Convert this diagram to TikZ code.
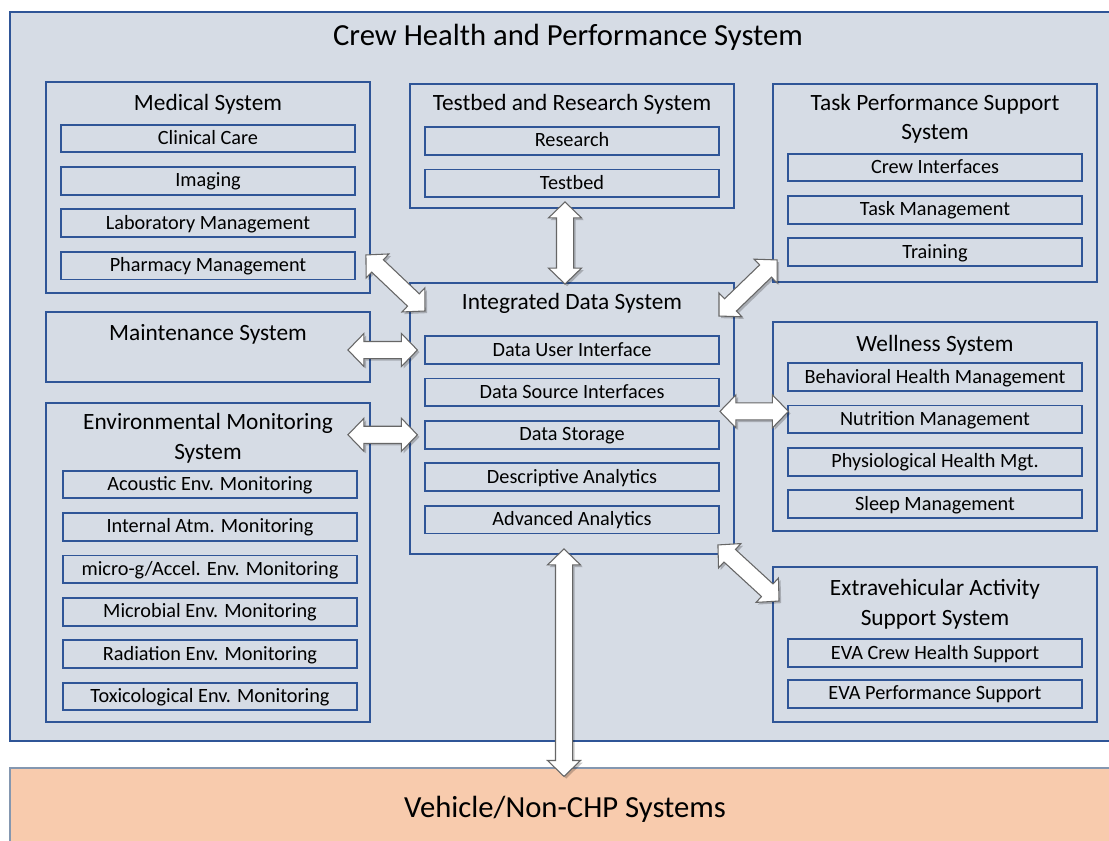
\documentclass[tikz,border=0pt]{standalone}
\usepackage{fontspec}
\setmainfont{Carlito}
\usepackage{tikz}
\usetikzlibrary{positioning,calc,fit}
\definecolor{chpfill}{HTML}{D6DCE5}
\definecolor{chpline}{HTML}{2F5597}
\definecolor{vehfill}{HTML}{F8CBAD}
\definecolor{vehline}{HTML}{8497B0}
\tikzset{
  sysbox/.style={draw=chpline,line width=1.4pt,inner sep=0pt},
  head/.style={font=\fontsize{17.5}{22}\selectfont,align=center,anchor=base,inner sep=0pt},
  bighead/.style={font=\fontsize{23}{27}\selectfont,anchor=base,inner sep=0pt},
  item/.style={draw=chpline,line width=1.4pt,minimum width=220pt,minimum height=20.8pt,inner sep=0pt,
    font=\fontsize{15.2}{18}\selectfont,text height=11.5pt,text depth=2.5pt},
  fatarrow/.style={fill=white,draw=gray!80!black,line width=0.8pt,line join=miter},
  arrshadow/.style={fill=black,opacity=0.22,draw=none}
}
\newcommand\fatarrow[2]{%
  \pgfmathanglebetweenpoints{\pgfpointanchor{#1}{center}}{\pgfpointanchor{#2}{center}}%
  \let\arrang\pgfmathresult
  \pgfpointdiff{\pgfpointanchor{#1}{center}}{\pgfpointanchor{#2}{center}}%
  \pgfgetlastxy{\arrdx}{\arrdy}%
  \pgfmathsetmacro\arrlen{veclen(\arrdx,\arrdy)}%
  \pgfmathsetmacro\arrback{\arrlen-12}%
  \foreach \sx/\sy/\st in {1.6pt/-1.6pt/arrshadow,0pt/0pt/fatarrow}{
    \begin{scope}[shift={(#1)},xshift=\sx,yshift=\sy,rotate=\arrang]
      \path[\st] (0pt,0pt) -- (12pt,12.4pt) -- (12pt,6.4pt) -- (\arrback pt,6.4pt) -- (\arrback pt,12.4pt)
        -- (\arrlen pt,0pt) -- (\arrback pt,-12.4pt) -- (\arrback pt,-6.4pt) -- (12pt,-6.4pt) -- (12pt,-12.4pt) -- cycle;
    \end{scope}}%
}

\begin{document}
\begin{tikzpicture}[x=0.75pt,y=-0.75pt,node distance=9.6pt]
  \useasboundingbox (0,0) rectangle (1109,841);
  \node[sysbox,fill=chpfill,fit={(10,12) (1120,741)}] (chp) {};
  \node[sysbox,fill=vehfill,draw=vehline,line width=0.8pt,fit={(10,768) (1120,850)}] (veh) {};
  \node[bighead] (chpt) at (568,46) {Crew Health and Performance System};
  \node[bighead] (veht) at (565,817) {Vehicle/Non-CHP Systems};

  \node[sysbox,fit={(46,82) (370,293)}] (med) {};
  \node[head] (medt) at (208,111) {Medical System};
  \node[item] (cc) at (208,138.5) {Clinical Care};
  \node[item,below=of cc] (img) {Imaging};
  \node[item,below=of img] (lab) {Laboratory Management};
  \node[item,below=of lab] (pha) {Pharmacy Management};

  \node[sysbox,fit={(46,312) (370,382)}] (mnt) {};
  \node[head] (mntt) at (208,340) {Maintenance System};

  \node[sysbox,fit={(46,403) (370,722)}] (env) {};
  \node[head] (envt) at (208,459) {Environmental Monitoring\\System};
  \node[item] (aco) at (210,484.5) {Acoustic Env. Monitoring};
  \node[item,below=of aco] (atm) {Internal Atm. Monitoring};
  \node[item,below=of atm] (mcg) {micro-g/Accel. Env. Monitoring};
  \node[item,below=of mcg] (mic) {Microbial Env. Monitoring};
  \node[item,below=of mic] (rad) {Radiation Env. Monitoring};
  \node[item,below=of rad] (tox) {Toxicological Env. Monitoring};

  \node[sysbox,fit={(410,84) (734,208)}] (tbr) {};
  \node[head] (tbrt) at (572,111) {Testbed and Research System};
  \node[item] (res) at (572,141) {Research};
  \node[item,below=of res] (tbd) {Testbed};

  \node[sysbox,fit={(410,283) (734,554)}] (ids) {};
  \node[head] (idst) at (572,310) {Integrated Data System};
  \node[item] (dui) at (572,350) {Data User Interface};
  \node[item,below=of dui] (dsi) {Data Source Interfaces};
  \node[item,below=of dsi] (dst) {Data Storage};
  \node[item,below=of dst] (dan) {Descriptive Analytics};
  \node[item,below=of dan] (aan) {Advanced Analytics};

  \node[sysbox,fit={(773,84) (1097,282)}] (tps) {};
  \node[head] (tpst) at (935,140) {Task Performance Support\\System};
  \node[item] (cri) at (935,167.5) {Crew Interfaces};
  \node[item,below=of cri] (tsk) {Task Management};
  \node[item,below=of tsk] (trn) {Training};

  \node[sysbox,fit={(773,322) (1097,531)}] (wel) {};
  \node[head] (welt) at (935,351) {Wellness System};
  \node[item] (bhm) at (935,377) {Behavioral Health Management};
  \node[item,below=of bhm] (nut) {Nutrition Management};
  \node[item,below=of nut] (phy) {Physiological Health Mgt.};
  \node[item,below=of phy] (slp) {Sleep Management};

  \node[sysbox,fit={(773,567) (1097,722)}] (eva) {};
  \node[head] (evat) at (935,625) {Extravehicular Activity\\Support System};
  \node[item] (ech) at (935,653) {EVA Crew Health Support};
  \node[item,below=8.5pt of ech] (eps) {EVA Performance Support};

  \coordinate (a1) at ($(med.south east)+(-5,-39)$);
  \coordinate (b1) at ($(ids.north west)+(16,29)$);
  \coordinate (a2) at ($(tbr.south)+(-7,-7)$);
  \coordinate (b2) at ($(ids.north)+(-7,2)$);
  \coordinate (a3) at ($(tps.south west)+(5,-23)$);
  \coordinate (b3) at ($(ids.north east)+(-16,34)$);
  \coordinate (a4) at ($(mnt.east |- dui.west)+(-23,0)$);
  \coordinate (b4) at ($(dui.west)+(-7,0)$);
  \coordinate (a5) at ($(env.east |- dst.west)+(-23,0)$);
  \coordinate (b5) at ($(dst.west)+(-7,0)$);
  \coordinate (a6) at ($(ids.east |- nut.west)+(-15,-8)$);
  \coordinate (b6) at ($(nut.west)+(1,-8)$);
  \coordinate (a7) at ($(ids.south east)+(-17,-10)$);
  \coordinate (b7) at ($(eva.north west)+(7,35)$);
  \coordinate (a8) at ($(ids.south)+(-8,-6)$);
  \coordinate (b8) at ($(ids.south |- veh.north)+(-8,9)$);
  \fatarrow{a1}{b1}
  \fatarrow{a2}{b2}
  \fatarrow{a3}{b3}
  \fatarrow{a4}{b4}
  \fatarrow{a5}{b5}
  \fatarrow{a6}{b6}
  \fatarrow{a7}{b7}
  \fatarrow{a8}{b8}
\end{tikzpicture}
\end{document}
